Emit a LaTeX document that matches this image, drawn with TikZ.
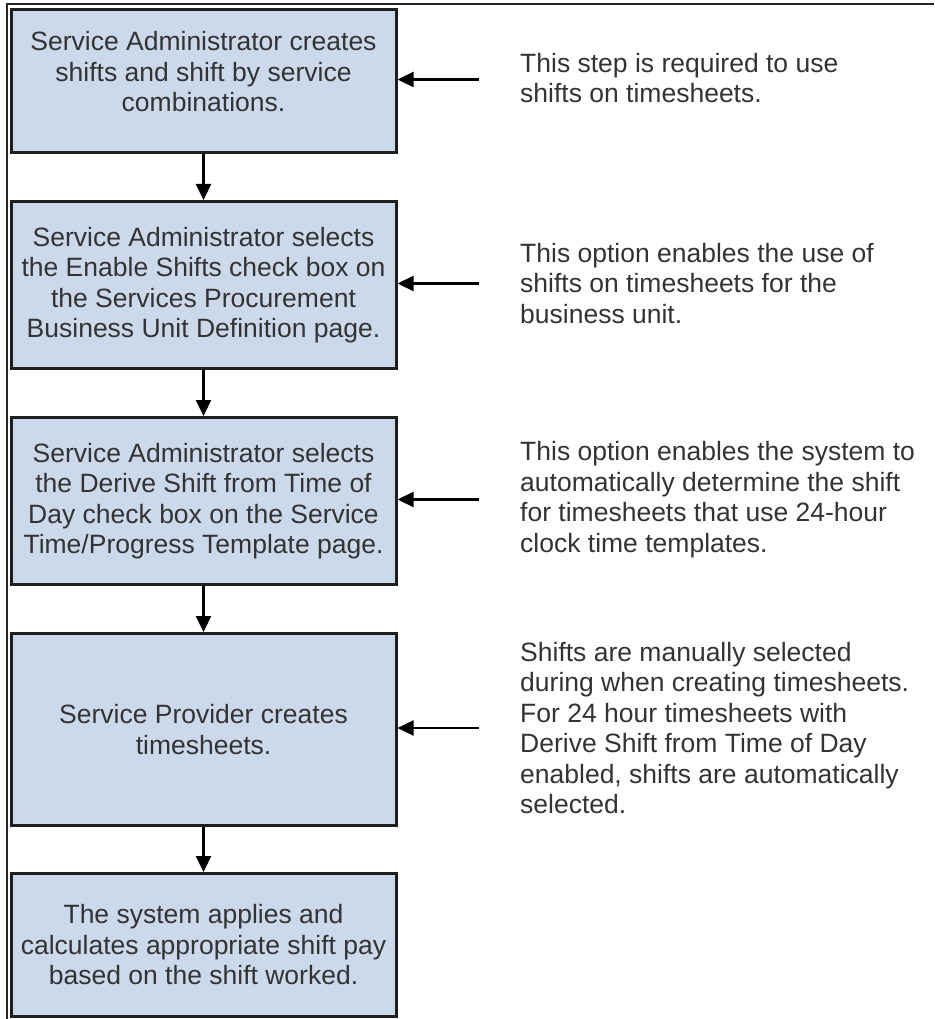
\documentclass[tikz,border=0pt]{standalone}
\usepackage{fontspec}
\setmainfont{Liberation Sans}
\usetikzlibrary{arrows.meta}
\definecolor{boxfill}{HTML}{CCD9EA}
\definecolor{boxline}{HTML}{1E1E1E}
\definecolor{txt}{HTML}{333333}
\tikzset{
  stepbox/.style={draw=boxline, line width=3pt, fill=boxfill, minimum width=385pt,
    anchor=north, align=center, inner sep=0pt, text=txt,
    font=\fontsize{26.5}{30.5}\selectfont},
  boxtext/.style={align=center, inner sep=0pt, text=txt,
    font=\fontsize{26.5}{30.5}\selectfont},
  note/.style={anchor=west, align=left, inner sep=0pt, text=txt,
    font=\fontsize{26.5}{30.5}\selectfont},
  arr/.style={draw=black, line width=2.2pt, -{Triangle[length=16pt,width=15pt]}},
  frameline/.style={draw=black!85, line width=1.6pt}
}
\begin{document}
\begin{tikzpicture}[x=1pt,y=-1pt]
\useasboundingbox (0,0) rectangle (934,1019);
\draw[frameline] (7,1019) -- (7,4) -- (934,4);
\node[stepbox, minimum height=143pt] (b1) at (203.5,8) {};
\node[boxtext] (t1) at ([yshift=9pt]b1.center)
  {Service Administrator creates\\shifts and shift by service\\combinations.};
\node[stepbox, minimum height=167pt] (b2) at (203.5,200)
  {Service Administrator selects\\the Enable Shifts check box on\\the Services Procurement\\Business Unit Definition page.};
\node[stepbox, minimum height=167pt] (b3) at (203.5,416)
  {Service Administrator selects\\the Derive Shift from Time of\\Day check box on the Service\\Time/Progress Template page.};
\node[stepbox, minimum height=192pt] (b4) at (203.5,632)
  {Service Provider creates\\timesheets.};
\node[stepbox, minimum height=143pt] (b5) at (203.5,872)
  {The system applies and\\calculates appropriate shift pay\\based on the shift worked.};
\draw[arr] (b1) -- (b2);
\draw[arr] (b2) -- (b3);
\draw[arr] (b3) -- (b4);
\draw[arr] (b4) -- (b5);
\node[note] (n1) at (520,78) {This step is required to use\\shifts on timesheets.};
\node[note] (n2) at (520,283.5) {This option enables the use of\\shifts on timesheets for the\\business unit.};
\node[note] (n3) at (520,499.5) {This option enables the system to\\automatically determine the shift\\for timesheets that use 24-hour\\clock time templates.};
\node[note] (n4) at (520,728) {Shifts are manually selected\\during when creating timesheets.\\For 24 hour timesheets with\\Derive Shift from Time of Day\\enabled, shifts are automatically\\selected.};
\coordinate (s1) at (479,79.5);
\coordinate (s2) at (479,283.5);
\coordinate (s3) at (479,499.5);
\coordinate (s4) at (479,728);
\draw[arr] (s1) -- (s1 -| b1.east);
\draw[arr] (s2) -- (s2 -| b2.east);
\draw[arr] (s3) -- (s3 -| b3.east);
\draw[arr] (s4) -- (s4 -| b4.east);
\end{tikzpicture}
\end{document}
